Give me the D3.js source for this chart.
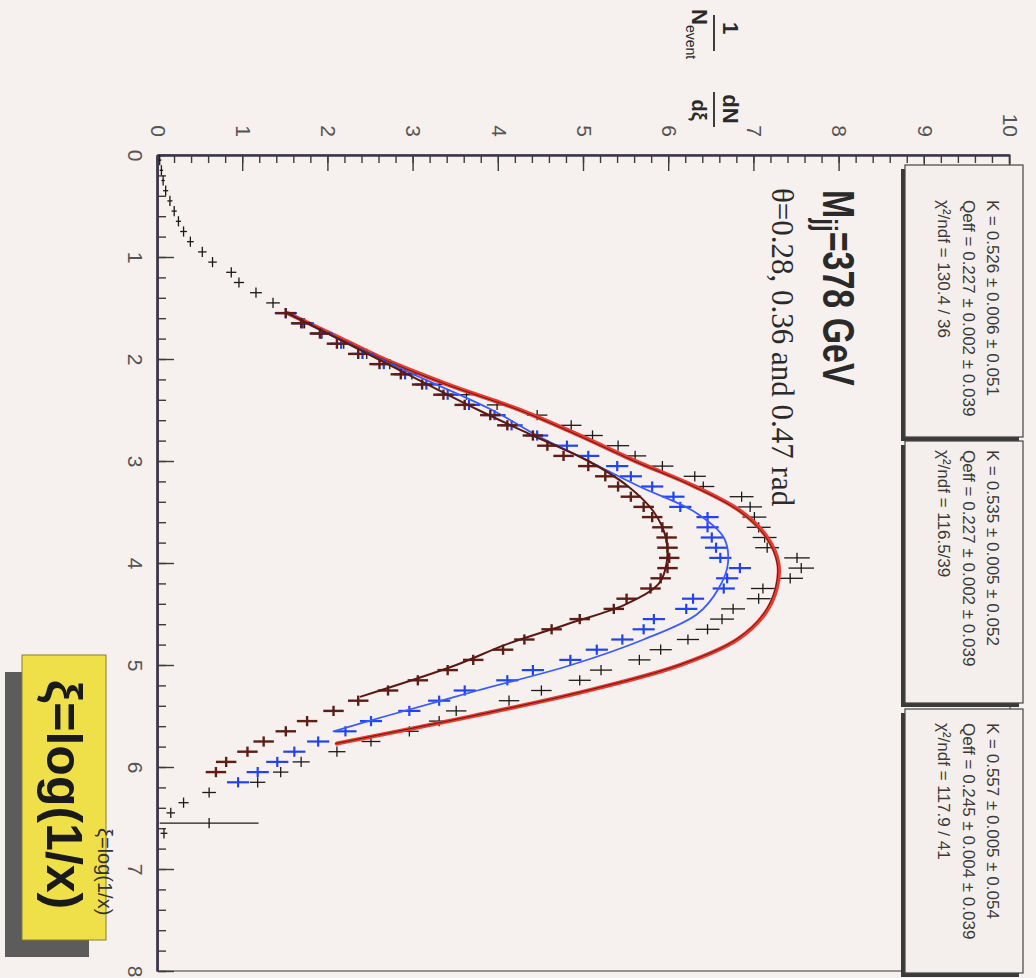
<!DOCTYPE html>
<html>
<head>
<meta charset="utf-8">
<script src="https://cdn.jsdelivr.net/npm/d3@7"></script>
<style>
  body { margin: 0; background: #f6f0ee; }
  svg { display: block; }
</style>
</head>
<body>
<div id="chart"></div>
<script>
// xi = log(1/x) bin centres and 1/N dN/dxi
var xiBlack = [0.05,0.15,0.25,0.35,0.45,0.55,0.65,0.75,0.85,0.95,1.05,1.15,1.25,1.35,1.45,
  1.55,1.65,1.75,1.85,1.95,2.05,2.15,2.25,2.35,2.45,2.55,2.65,2.75,2.85,2.95,3.05,3.15,3.25,
  3.35,3.45,3.55,3.65,3.75,3.85,3.95,4.05,4.15,4.25,4.35,4.45,4.55,4.65,4.75,4.85,4.95,5.05,
  5.15,5.25,5.35,5.45,5.55,5.65,5.75,5.85,5.95,6.05,6.15,6.25,6.35,6.45,6.55,6.65];
var valBlack = [0.02,0.04,0.06,0.09,0.14,0.19,0.24,0.30,0.38,0.52,0.64,0.86,0.95,1.15,1.35,
  1.50,1.72,1.92,2.18,2.45,2.72,2.98,3.30,3.62,3.98,4.45,4.85,5.10,5.40,5.60,5.92,6.30,6.40,
  6.85,6.95,7.00,7.05,7.12,7.15,7.50,7.55,7.42,7.10,7.05,6.75,6.62,6.45,6.22,5.90,5.65,5.20,
  4.95,4.50,4.12,3.50,3.30,2.95,2.50,2.10,1.68,1.44,1.17,0.60,0.30,0.15,0.60,0.07];
var errBlack = [0.02,0.02,0.02,0.03,0.03,0.03,0.03,0.04,0.04,0.05,0.05,0.06,0.06,0.07,0.08,
  0.09,0.09,0.10,0.10,0.10,0.11,0.11,0.11,0.12,0.12,0.12,0.12,0.12,0.13,0.13,0.13,0.13,0.13,
  0.14,0.14,0.14,0.14,0.14,0.14,0.15,0.15,0.15,0.14,0.14,0.14,0.14,0.14,0.13,0.13,0.13,0.13,
  0.13,0.12,0.12,0.12,0.12,0.11,0.11,0.10,0.10,0.09,0.09,0.08,0.06,0.05,0.58,0.04];

var xiBlue = [1.55,1.65,1.75,1.85,1.95,2.05,2.15,2.25,2.35,2.45,2.55,2.65,2.75,2.85,2.95,
  3.05,3.15,3.25,3.35,3.45,3.55,3.65,3.75,3.85,3.95,4.05,4.15,4.25,4.35,4.45,4.55,4.65,4.75,
  4.85,4.95,5.05,5.15,5.25,5.35,5.45,5.55,5.65,5.75,5.85,5.95,6.05,6.15];
var valBlue = [1.50,1.70,1.92,2.15,2.40,2.65,2.90,3.15,3.40,3.65,3.95,4.15,4.45,4.80,5.05,
  5.39,5.55,5.80,6.05,6.13,6.45,6.45,6.50,6.55,6.60,6.83,6.68,6.64,6.28,6.20,5.82,5.70,5.45,
  5.15,4.84,4.40,4.10,3.60,3.30,2.95,2.50,2.20,1.88,1.60,1.40,1.17,0.94];
var errBlue = 0.13;

var xiBrown = [1.55,1.65,1.75,1.85,1.95,2.05,2.15,2.25,2.35,2.45,2.55,2.65,2.75,2.85,2.95,
  3.05,3.15,3.25,3.35,3.45,3.55,3.65,3.75,3.85,3.95,4.05,4.15,4.25,4.35,4.45,4.55,4.65,4.75,
  4.85,4.95,5.05,5.15,5.25,5.35,5.45,5.55,5.65,5.75,5.85,5.95,6.05];
var valBrown = [1.50,1.68,1.90,2.10,2.35,2.60,2.85,3.10,3.35,3.60,3.90,4.10,4.40,4.57,4.76,
  5.05,5.25,5.40,5.55,5.70,5.80,5.92,5.97,5.98,6.00,5.98,5.90,5.78,5.50,5.35,4.95,4.62,4.30,
  4.05,3.70,3.40,3.05,2.70,2.35,2.06,1.75,1.50,1.24,1.05,0.80,0.68];
var errBrown = 0.12;
var binHalf = 0.05;

// fitted curves
var fitXiRed = [1.55,1.8,2.0,2.25,2.5,2.75,3.0,3.25,3.5,3.75,4.0,4.25,4.5,4.75,5.0,5.25,5.5,5.77];
var fitRed   = [1.52,2.15,2.65,3.40,4.25,4.95,5.60,6.30,6.85,7.15,7.28,7.26,7.12,6.80,6.13,5.05,3.70,2.10];
var fitXiBlue = [1.55,2.0,2.5,2.75,3.0,3.25,3.5,3.75,4.0,4.25,4.5,4.75,5.0,5.25,5.5,5.65];
var fitBlue   = [1.52,2.60,3.92,4.45,5.05,5.65,6.30,6.64,6.69,6.58,6.33,5.70,4.85,3.75,2.68,2.06];
var fitXiBrown = [1.55,2.0,2.5,2.75,3.0,3.25,3.5,3.75,4.0,4.2,4.4,4.6,4.8,5.0,5.31];
var fitBrown   = [1.52,2.58,3.76,4.40,5.05,5.52,5.82,5.96,5.97,5.88,5.50,4.80,4.08,3.50,2.38];

var xiTicks = [0,1,2,3,4,5,6,7,8];
var valTicks = [0,1,2,3,4,5,6,7,8,9,10];

var statLines = [
  ["K = 0.526 \u00b1 0.006 \u00b1 0.051", "Qeff = 0.227 \u00b1 0.002 \u00b1 0.039", "\u03c7\u00b2/ndf = 130.4 / 36"],
  ["K = 0.535 \u00b1 0.005 \u00b1 0.052", "Qeff = 0.227 \u00b1 0.002 \u00b1 0.039", "\u03c7\u00b2/ndf = 116.5/39"],
  ["K = 0.557 \u00b1 0.005 \u00b1 0.054", "Qeff = 0.245 \u00b1 0.004 \u00b1 0.039", "\u03c7\u00b2/ndf = 117.9 / 41"]
];

// the scanned page is turned a quarter turn clockwise, so draw the plot
// the normal way and rotate the whole group
var W = 816, H = 852;
var svg = d3.select("#chart").append("svg")
    .attr("width", 1036)
    .attr("height", 978);
svg.append("rect").attr("width", 1036).attr("height", 978).attr("fill", "#f6f0ee");

var g = svg.append("g").attr("transform", "translate(1010,155) rotate(90)");

var x = d3.scaleLinear().domain([0, 8]).range([0, W]);
var y = d3.scaleLinear().domain([0, 10]).range([H, 0]);

// frame
g.append("rect").attr("width", W).attr("height", H)
  .attr("fill", "none").attr("stroke", "#555").attr("stroke-width", 1.2);

// xi axis (bottom in plot coords)
g.append("g").attr("transform", "translate(0," + H + ")")
  .call(d3.axisBottom(x).tickValues(d3.range(0, 8.001, 0.2)).tickSize(-8).tickSizeOuter(0).tickFormat(""));
g.append("g").attr("transform", "translate(0," + H + ")")
  .call(d3.axisBottom(x).tickValues(xiTicks).tickSize(-16).tickSizeOuter(0).tickPadding(15).tickFormat(d3.format("d")));

// value axis (left in plot coords)
g.append("g")
  .call(d3.axisLeft(y).tickValues(d3.range(0, 10.001, 0.2)).tickSize(-8).tickSizeOuter(0).tickFormat(""));
g.append("g")
  .call(d3.axisLeft(y).tickValues(valTicks).tickSize(-16).tickSizeOuter(0).tickPadding(18).tickFormat(d3.format("d")));

g.selectAll(".domain").attr("stroke", "#3a3450").attr("stroke-width", 2.2);
g.selectAll(".tick line").attr("stroke", "#3c3c3c").attr("stroke-width", 1.4);
g.selectAll(".tick text").attr("font-family", "Liberation Sans, Arial, sans-serif")
  .attr("font-size", 21).attr("fill", "#555");

// axis title 1/N_event dN/dxi
var tt = g.append("g").attr("font-family", "Liberation Sans, Arial, sans-serif")
  .attr("font-weight", "bold").attr("fill", "#2a2a2a");
tt.append("text").attr("x", -127).attr("y", 287).attr("text-anchor", "middle").attr("font-size", 22).text("1");
tt.append("line").attr("x1", -140).attr("x2", -104).attr("y1", 296).attr("y2", 296)
  .attr("stroke", "#2a2a2a").attr("stroke-width", 1.8);
tt.append("text").attr("x", -146).attr("y", 318).attr("font-size", 22).text("N")
  .append("tspan").attr("dy", 6).attr("font-size", 14).attr("font-weight", "normal").text("event");
tt.append("text").attr("x", -46).attr("y", 287).attr("text-anchor", "middle").attr("font-size", 22).text("dN");
tt.append("line").attr("x1", -63).attr("x2", -28).attr("y1", 296).attr("y2", 296)
  .attr("stroke", "#2a2a2a").attr("stroke-width", 1.8);
tt.append("text").attr("x", -45).attr("y", 318).attr("text-anchor", "middle").attr("font-size", 20).text("d\u03be");

// data points with error crosses
function drawPoints(xs, vs, errs, color, sw) {
  var pts = xs.map(function (d, i) {
    return { xi: d, v: vs[i], e: Array.isArray(errs) ? errs[i] : errs };
  });
  var grp = g.append("g").attr("stroke", color).attr("stroke-width", sw);
  grp.selectAll("line.h").data(pts).enter().append("line").attr("class", "h")
    .attr("x1", function (d) { return x(d.xi - binHalf); })
    .attr("x2", function (d) { return x(d.xi + binHalf); })
    .attr("y1", function (d) { return y(d.v); })
    .attr("y2", function (d) { return y(d.v); });
  grp.selectAll("line.v").data(pts).enter().append("line").attr("class", "v")
    .attr("x1", function (d) { return x(d.xi); })
    .attr("x2", function (d) { return x(d.xi); })
    .attr("y1", function (d) { return y(Math.max(0, d.v - d.e)); })
    .attr("y2", function (d) { return y(d.v + d.e); });
}

function drawFit(xs, vs, color, sw) {
  var line = d3.line()
    .x(function (d, i) { return x(xs[i]); })
    .y(function (d) { return y(d); })
    .curve(d3.curveCatmullRom);
  return g.append("path").attr("d", line(vs))
    .attr("fill", "none").attr("stroke", color).attr("stroke-width", sw)
    .attr("stroke-linecap", "round");
}

drawPoints(xiBlack, valBlack, errBlack, "#1a1a1a", 1.3);
drawFit(fitXiRed, fitRed, "#ea3a30", 4.2);
drawFit(fitXiRed, fitRed, "#4a1812", 0.9).attr("transform", "translate(0,1.2)");
drawPoints(xiBlue, valBlue, errBlue, "#2244ee", 2.2);
drawFit(fitXiBlue, fitBlue, "#3a5cff", 1.8);
drawPoints(xiBrown, valBrown, errBrown, "#5e1d16", 2.4);
drawFit(fitXiBrown, fitBrown, "#5a1a12", 2);

// labels
g.append("text").attr("transform", "translate(35,187) scale(1,1.3)")
  .attr("font-family", "Liberation Sans, Arial, sans-serif").attr("font-size", 34)
  .attr("font-weight", "bold").attr("fill", "#2a2a2a")
  .text("M")
  .call(function (t) {
    t.append("tspan").attr("dy", 6).attr("font-size", 24).text("jj");
    t.append("tspan").attr("dy", -6).text("=378 GeV");
  });
g.append("text").attr("x", 33).attr("y", 238)
  .attr("font-family", "Liberation Serif, Times New Roman, serif").attr("font-size", 31)
  .attr("fill", "#2a2a2a")
  .text("\u03b8=0.28, 0.36 and 0.47 rad");

// fit statistics boxes
var boxes = [[10, 282], [286, 548], [554, 818]];
var textStart = [45, 295, 568];
var lineY = [23, 47, 72];
boxes.forEach(function (b, i) {
  g.append("rect").attr("x", b[0] + 4).attr("y", -9).attr("width", b[1] - b[0]).attr("height", 118)
    .attr("fill", "#3a3a3a");
  g.append("rect").attr("x", b[0]).attr("y", -13).attr("width", b[1] - b[0]).attr("height", 118)
    .attr("fill", "#f4eeec").attr("stroke", "#444").attr("stroke-width", 1.2);
  statLines[i].forEach(function (s, j) {
    g.append("text").attr("x", textStart[i]).attr("y", lineY[j])
      .attr("font-family", "Liberation Sans, Arial, sans-serif").attr("font-size", 17)
      .attr("fill", "#3a3a3a").text(s);
  });
});

// yellow xi label
g.append("rect").attr("x", 517).attr("y", 921).attr("width", 285).attr("height", 84).attr("fill", "#5c5c5c");
g.append("rect").attr("x", 500).attr("y", 904).attr("width", 285).attr("height", 84)
  .attr("fill", "#efe04a").attr("stroke", "#8a7d2a").attr("stroke-width", 1);
g.append("text").attr("x", 525).attr("y", 963)
  .attr("font-family", "Liberation Sans, Arial, sans-serif").attr("font-size", 50)
  .attr("font-weight", "bold").attr("fill", "#1a1a1a")
  .text("\u03be=log(1/x)");
g.append("text").attr("x", 673).attr("y", 912)
  .attr("font-family", "Liberation Sans, Arial, sans-serif").attr("font-size", 20)
  .attr("fill", "#333").text("\u03be=log(1/x)");
</script>
</body>
</html>
